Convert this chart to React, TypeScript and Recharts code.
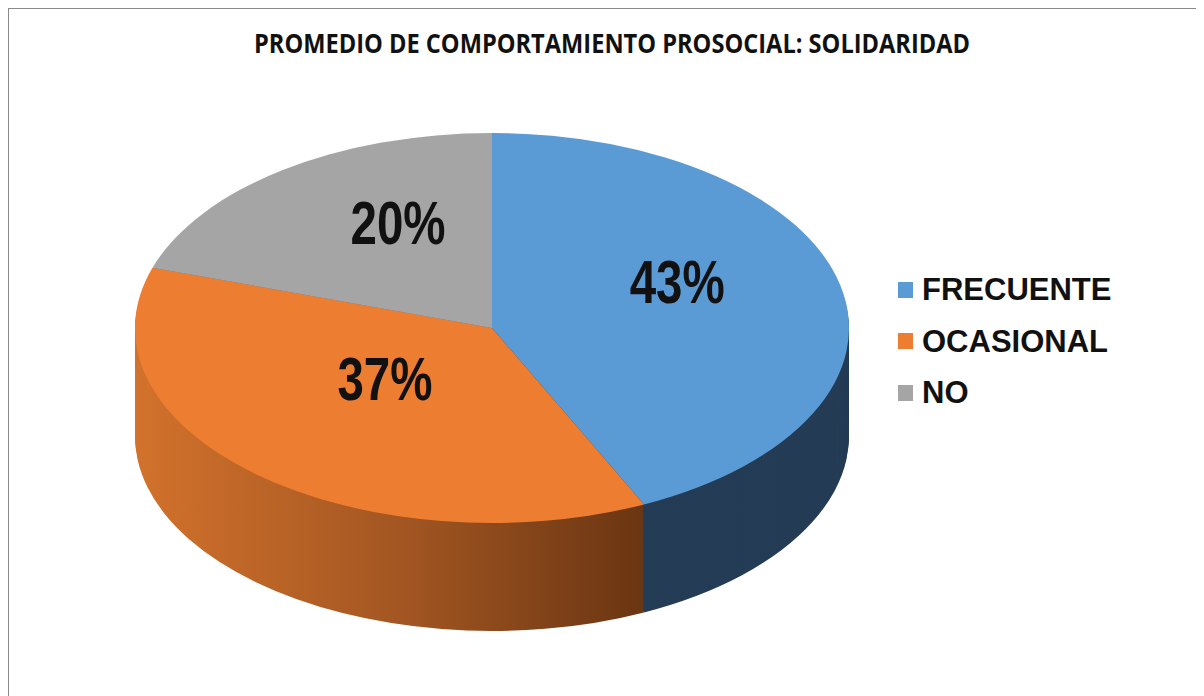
import { Cell, Legend, Pie, PieChart } from "recharts";

// data
const categories = ["FRECUENTE", "OCASIONAL", "NO"];
const percents = [43, 37, 20];
const topColors = ["#5b9bd5", "#ed7d31", "#a5a5a5"];
const sideColors = ["#243c55", "url(#sideOrange)", "#6b6b6b"];
const title = "PROMEDIO DE COMPORTAMIENTO PROSOCIAL: SOLIDARIDAD";

const data = categories.map((name, i) => ({ name, value: percents[i] }));

const W = 1195;
const H = 687;
const CX = 483;
const CY = 319; // centre of the top ellipse, on screen
const RX = 357;
const RY = 195;
const S = RY / RX; // vertical squash to fake the tilt
const DEPTH = 108;
const STEP = 2;

const sideOffsets: number[] = [];
for (let d = DEPTH; d >= STEP; d -= STEP) sideOffsets.push(d);

const renderLabel = (props: any) => {
  const a = ((props.midAngle ?? 0) * Math.PI) / 180;
  const x = CX + 11 + 0.5 * RX * Math.cos(a);
  const y = 294 - 100 * Math.sin(a);
  const v = props.value ?? props.payload?.value;
  return (
    <text
      x={x}
      y={y + 22}
      textAnchor="middle"
      fill="#111"
      fontSize={61}
      fontWeight={700}
      textLength={95}
      lengthAdjust="spacingAndGlyphs"
      fontFamily="'Liberation Sans', Arial, sans-serif"
    >
      {`${v}%`}
    </text>
  );
};

const LegendBox = () => (
  <div>
    {categories.map((c, i) => (
      <div key={c} style={{ display: "flex", alignItems: "center", height: 51.5 }}>
        <span style={{ width: 15, height: 16, background: topColors[i], marginRight: 9, display: "inline-block" }} />
        <span
          style={{
            fontFamily: "'Liberation Sans', Arial, sans-serif",
            fontWeight: 700,
            fontSize: 31,
            lineHeight: 1,
            color: "#111",
          }}
        >
          {c}
        </span>
      </div>
    ))}
  </div>
);

export default function App() {
  return (
    <div
      style={{
        position: "relative",
        width: W,
        height: H,
        borderTop: "1px solid #8a8a8a",
        borderLeft: "1px solid #8a8a8a",
        background: "#fff",
      }}
    >
      <style>{`
        body { overflow: hidden; }
        .pie3d .recharts-sector { transform-box: view-box; transform-origin: 0 0; transform: scaleY(${S}); }
      `}</style>
      <svg width={0} height={0} style={{ position: "absolute" }}>
        <defs>
          <linearGradient id="sideOrange" gradientUnits="userSpaceOnUse" x1={126} y1={0} x2={659} y2={0}>
            <stop offset="0%" stopColor="#d2722c" />
            <stop offset="50%" stopColor="#a35622" />
            <stop offset="100%" stopColor="#643210" />
          </linearGradient>
        </defs>
      </svg>
      <PieChart className="pie3d" width={W} height={H} margin={{ top: 0, right: 0, bottom: 0, left: 0 }}>
        {sideOffsets.map((d) => (
          <Pie
            key={d}
            data={data}
            dataKey="value"
            nameKey="name"
            cx={CX}
            cy={(CY + d) / S}
            outerRadius={RX}
            startAngle={90}
            endAngle={-270}
            stroke="none"
            legendType="none"
            isAnimationActive={false}
          >
            {data.map((e, i) => (
              <Cell key={e.name} fill={sideColors[i]} />
            ))}
          </Pie>
        ))}
        <Pie
          data={data}
          dataKey="value"
          nameKey="name"
          cx={CX}
          cy={CY / S}
          outerRadius={RX}
          startAngle={90}
          endAngle={-270}
          stroke="none"
          label={renderLabel}
          labelLine={false}
          isAnimationActive={false}
        >
          {data.map((e, i) => (
            <Cell key={e.name} fill={topColors[i]} />
          ))}
        </Pie>
        <Legend
          layout="vertical"
          align="right"
          verticalAlign="middle"
          content={<LegendBox />}
          wrapperStyle={{ left: 889, top: 255, width: 260 }}
        />
      </PieChart>
      <svg width={W} height={80} style={{ position: "absolute", left: 0, top: 0, pointerEvents: "none" }}>
        <text
          x={245}
          y={44}
          textLength={716}
          lengthAdjust="spacingAndGlyphs"
          fontSize={26}
          fontWeight={700}
          fontFamily="'Open Sans', sans-serif"
          fill="#111"
        >
          {title}
        </text>
      </svg>
    </div>
  );
}
